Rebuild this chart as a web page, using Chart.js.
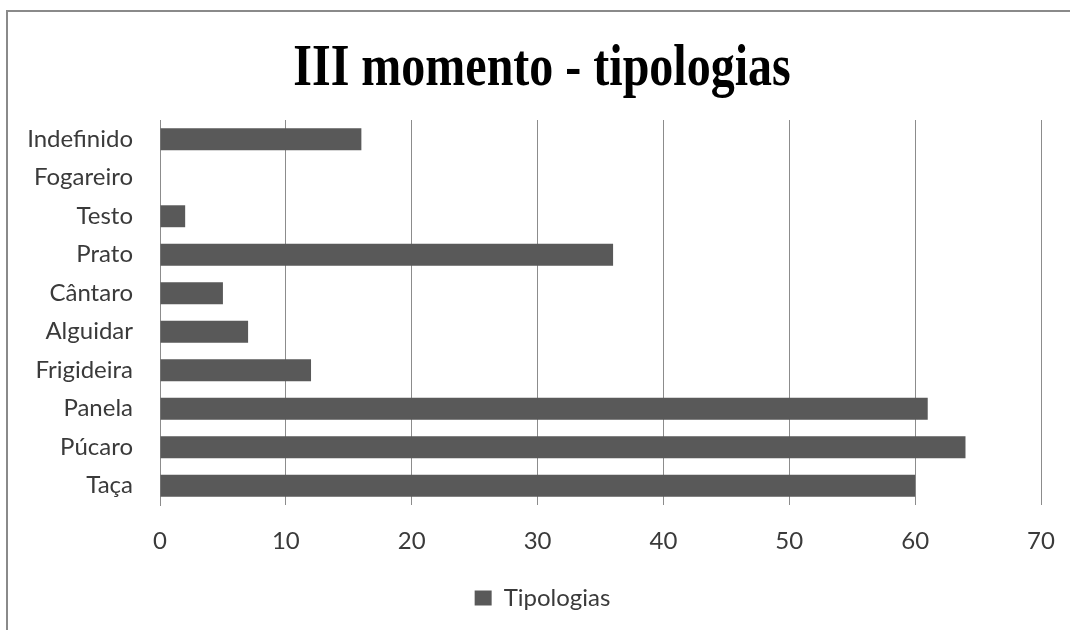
<!DOCTYPE html>
<html>
<head>
<meta charset="utf-8">
<script src="https://cdn.jsdelivr.net/npm/chart.js@4/dist/chart.umd.min.js"></script>
<style>
  html, body { margin: 0; padding: 0; background: #ffffff; }
  #wrap { position: relative; width: 1070px; height: 630px; overflow: hidden; background: #fff; }
  #frame { position: absolute; left: 6px; top: 10px; width: 1100px; height: 700px;
           border-left: 2px solid #8a8a8a; border-top: 2px solid #8a8a8a; pointer-events: none; }
  canvas { position: absolute; left: 0; top: 0; }
</style>
</head>
<body>
<div id="wrap">
  <canvas id="c" width="1070" height="630"></canvas>
  <div id="frame"></div>
</div>
<script>
const chartTitle = "III momento - tipologias";
const seriesName = "Tipologias";
const categories = ["Indefinido", "Fogareiro", "Testo", "Prato", "Cântaro", "Alguidar", "Frigideira", "Panela", "Púcaro", "Taça"];
const values = [16, 0, 2, 36, 5, 7, 12, 61, 64, 60];
const xTicks = [0, 10, 20, 30, 40, 50, 60, 70];

const barColor = "#595959";
const gridColor = "#8c8c8c";
const textColor = "#3a3a3a";
const labelFont = { family: "Lato", size: 24 };

// Title drawn as real canvas text, slightly condensed like the reference
const titlePlugin = {
  id: "condensedTitle",
  afterDraw(chart) {
    const ctx = chart.ctx;
    ctx.save();
    ctx.font = 'bold 60px "Liberation Serif"';
    ctx.fillStyle = "#000000";
    ctx.textAlign = "center";
    ctx.textBaseline = "alphabetic";
    ctx.translate(542, 85);
    ctx.scale(0.8, 1);
    ctx.fillText(chartTitle, 0, 0);
    ctx.restore();
  }
};

new Chart(document.getElementById("c"), {
  type: "bar",
  data: {
    labels: categories,
    datasets: [{
      label: seriesName,
      data: values,
      backgroundColor: barColor,
      borderWidth: 0,
      categoryPercentage: 1.0,
      barPercentage: 0.57
    }]
  },
  plugins: [titlePlugin],
  options: {
    indexAxis: "y",
    responsive: false,
    animation: false,
    devicePixelRatio: 1,
    layout: { padding: { left: 15, right: 0, top: 120, bottom: 10 } },
    plugins: {
      title: { display: false },
      legend: {
        display: true,
        position: "bottom",
        labels: {
          color: textColor,
          font: labelFont,
          boxWidth: 17,
          boxHeight: 15,
          padding: 10
        }
      },
      tooltip: { enabled: false }
    },
    scales: {
      x: {
        type: "linear",
        min: 0,
        max: 70,
        afterBuildTicks: (scale) => { scale.ticks = xTicks.map(v => ({ value: v })); },
        afterFit: (scale) => { scale.height = 71; scale.paddingRight = 0; scale.paddingLeft = 0; },
        grid: { color: gridColor, lineWidth: 1, drawTicks: false },
        border: { display: false },
        ticks: { color: textColor, font: labelFont, padding: 22 }
      },
      y: {
        afterFit: (scale) => { scale.width = 145; },
        grid: { display: false, drawTicks: false },
        border: { display: true, color: gridColor, width: 1 },
        ticks: { color: textColor, font: labelFont, padding: 27 }
      },
      yRight: {
        axis: "y",
        type: "linear",
        position: "right",
        display: true,
        afterFit: (scale) => { scale.width = 29; },
        grid: { display: false, drawTicks: false },
        border: { display: false },
        ticks: { display: false }
      }
    }
  }
});
</script>
</body>
</html>
